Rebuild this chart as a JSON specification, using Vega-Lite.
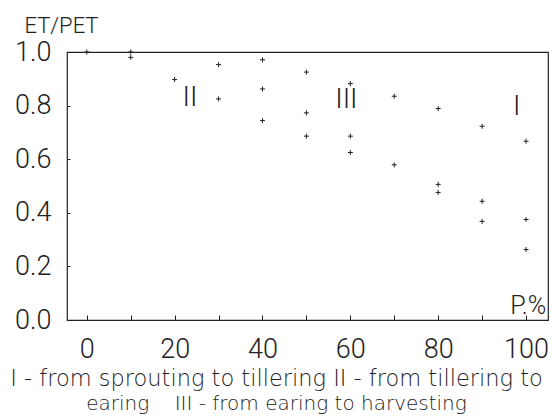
{
  "$schema": "https://vega.github.io/schema/vega-lite/v6.json",
  "autosize": "none",
  "width": 481,
  "height": 268,
  "padding": {"left": 67, "top": 52, "right": 7, "bottom": 100},
  "background": "white",
  "config": {
    "view": {"stroke": "#222", "strokeWidth": 1.2},
    "font": "Roboto"
  },
  "title": {
    "text": "I - from sprouting to tillering II - from tillering to",
    "subtitle": "earing\u00a0\u00a0\u00a0 III - from earing to harvesting",
    "orient": "bottom",
    "anchor": "middle",
    "dx": -31,
    "offset": 6,
    "font": "DejaVu Sans",
    "fontSize": 22.5,
    "fontWeight": 200,
    "color": "#222",
    "subtitleFont": "DejaVu Sans",
    "subtitleFontSize": 20,
    "subtitleFontWeight": 200,
    "subtitleColor": "#222",
    "subtitlePadding": 3
  },
  "datasets": {
    "pts": [
      {"p": 0, "r": 1.0},
      {"p": 10, "r": 1.0},
      {"p": 10, "r": 0.98},
      {"p": 20, "r": 0.897},
      {"p": 30, "r": 0.953},
      {"p": 30, "r": 0.825},
      {"p": 40, "r": 0.971},
      {"p": 40, "r": 0.862},
      {"p": 40, "r": 0.744},
      {"p": 50, "r": 0.925},
      {"p": 50, "r": 0.773},
      {"p": 50, "r": 0.686},
      {"p": 60, "r": 0.882},
      {"p": 60, "r": 0.686},
      {"p": 60, "r": 0.625},
      {"p": 70, "r": 0.835},
      {"p": 70, "r": 0.579},
      {"p": 80, "r": 0.789},
      {"p": 80, "r": 0.506},
      {"p": 80, "r": 0.476},
      {"p": 90, "r": 0.723},
      {"p": 90, "r": 0.443},
      {"p": 90, "r": 0.368},
      {"p": 100, "r": 0.667},
      {"p": 100, "r": 0.375},
      {"p": 100, "r": 0.263}
    ],
    "labels": [
      {"p": 23.5, "r": 0.83, "t": "II"},
      {"p": 59.1, "r": 0.82, "t": "III"},
      {"p": 97.9, "r": 0.794, "t": "I"}
    ],
    "unit": [
      {"p": 104.6, "r": 0.0, "t": "P.%"}
    ]
  },
  "layer": [
    {
      "data": {"name": "pts"},
      "mark": {"type": "point", "shape": "M-1,0L1,0M0,-1L0,1", "filled": false, "stroke": "#222", "strokeWidth": 1, "size": 25, "opacity": 1},
      "encoding": {
        "x": {
          "field": "p", "type": "quantitative",
          "scale": {"domain": [-4.5, 105], "nice": false, "zero": false},
          "axis": {
            "title": null,
            "values": [0, 10, 20, 30, 40, 50, 60, 70, 80, 90, 100],
            "labelExpr": "datum.value % 20 == 0 ? datum.label : ''",
            "grid": false,
            "domain": false,
            "tickSize": -5,
            "tickColor": "#222",
            "labelFont": "Roboto",
            "labelFontWeight": 300,
            "labelFontSize": 27,
            "labelColor": "#222",
            "labelPadding": 21,
            "labelFlush": false
          }
        },
        "y": {
          "field": "r", "type": "quantitative",
          "scale": {"domain": [0, 1], "nice": false},
          "axis": {
            "title": "ET/PET",
            "titleAngle": 0,
            "titleX": -6,
            "titleY": -20,
            "titleAlign": "center",
            "titleBaseline": "alphabetic",
            "titleFont": "Roboto",
            "titleFontSize": 22,
            "titleFontWeight": 300,
            "titleColor": "#222",
            "values": [0, 0.2, 0.4, 0.6, 0.8, 1.0],
            "format": ".1f",
            "grid": false,
            "domain": false,
            "tickSize": -3,
            "tickColor": "#222",
            "labelFont": "Roboto",
            "labelFontWeight": 300,
            "labelFontSize": 27,
            "labelColor": "#222",
            "labelPadding": 19,
            "labelFlush": false
          }
        }
      }
    },
    {
      "data": {"name": "labels"},
      "mark": {"type": "text", "font": "Roboto", "fontWeight": 300, "fontSize": 28, "color": "#222", "baseline": "middle", "align": "center"},
      "encoding": {
        "x": {"field": "p", "type": "quantitative"},
        "y": {"field": "r", "type": "quantitative"},
        "text": {"field": "t"}
      }
    },
    {
      "data": {"name": "unit"},
      "mark": {"type": "text", "font": "Roboto", "fontWeight": 300, "fontSize": 25, "color": "#222", "baseline": "bottom", "align": "right", "dy": -1},
      "encoding": {
        "x": {"field": "p", "type": "quantitative"},
        "y": {"field": "r", "type": "quantitative"},
        "text": {"field": "t"}
      }
    }
  ]
}
